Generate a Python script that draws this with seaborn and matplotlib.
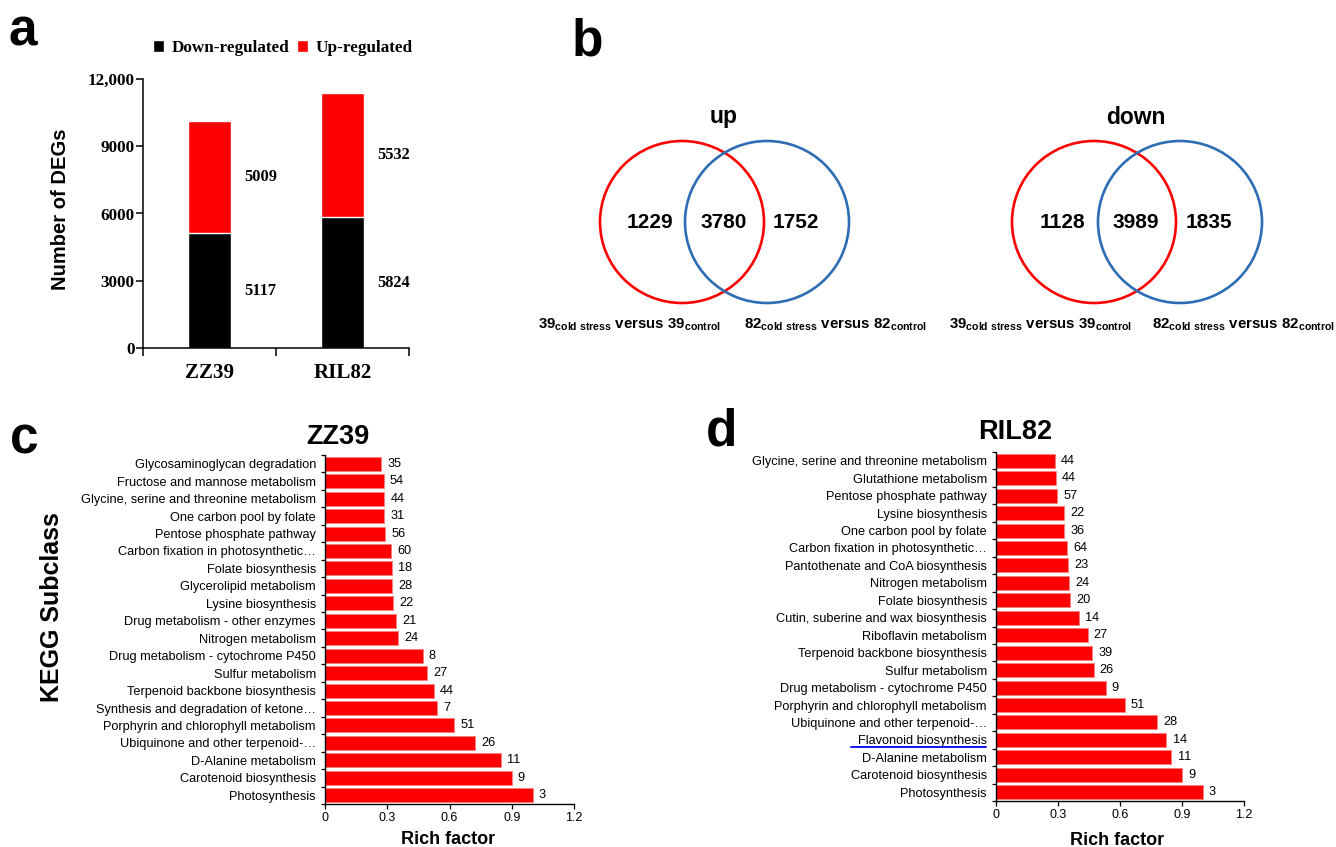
import numpy as np
import pandas as pd
import matplotlib
matplotlib.use("Agg")
import matplotlib.pyplot as plt
import matplotlib.transforms as mtransforms
from matplotlib.patches import Ellipse, Patch
import seaborn as sns

# ---------------- data ----------------
a_lines = ["ZZ39", "RIL82"]
a_down = [5117, 5824]
a_up = [5009, 5532]
a_yticks = [0, 3000, 6000, 9000, 12000]
a_yticklabels = ["0", "3000", "6000", "9000", "12,000"]

venn_titles = ["up", "down"]
venn_up = [1229, 3780, 1752]
venn_down = [1128, 3989, 1835]

c_terms = [
    "Glycosaminoglycan degradation",
    "Fructose and mannose metabolism",
    "Glycine, serine and threonine metabolism",
    "One carbon pool by folate",
    "Pentose phosphate pathway",
    "Carbon fixation in photosynthetic\u2026",
    "Folate biosynthesis",
    "Glycerolipid metabolism",
    "Lysine biosynthesis",
    "Drug metabolism - other enzymes",
    "Nitrogen metabolism",
    "Drug metabolism - cytochrome P450",
    "Sulfur metabolism",
    "Terpenoid backbone biosynthesis",
    "Synthesis and degradation of ketone\u2026",
    "Porphyrin and chlorophyll metabolism",
    "Ubiquinone and other terpenoid-\u2026",
    "D-Alanine metabolism",
    "Carotenoid biosynthesis",
    "Photosynthesis",
]
c_rich = [0.272, 0.282, 0.285, 0.286, 0.289, 0.318, 0.321, 0.325, 0.328, 0.344,
          0.354, 0.471, 0.492, 0.524, 0.538, 0.622, 0.724, 0.848, 0.899, 1.0]
c_counts = [35, 54, 44, 31, 56, 60, 18, 28, 22, 21, 24, 8, 27, 44, 7, 51, 26, 11, 9, 3]

d_terms = [
    "Glycine, serine and threonine metabolism",
    "Glutathione metabolism",
    "Pentose phosphate pathway",
    "Lysine biosynthesis",
    "One carbon pool by folate",
    "Carbon fixation in photosynthetic\u2026",
    "Pantothenate and CoA biosynthesis",
    "Nitrogen metabolism",
    "Folate biosynthesis",
    "Cutin, suberine and wax biosynthesis",
    "Riboflavin metabolism",
    "Terpenoid backbone biosynthesis",
    "Sulfur metabolism",
    "Drug metabolism - cytochrome P450",
    "Porphyrin and chlorophyll metabolism",
    "Ubiquinone and other terpenoid-\u2026",
    "Flavonoid biosynthesis",
    "D-Alanine metabolism",
    "Carotenoid biosynthesis",
    "Photosynthesis",
]
d_rich = [0.285, 0.288, 0.295, 0.328, 0.331, 0.342, 0.348, 0.352, 0.357, 0.400,
          0.443, 0.465, 0.472, 0.530, 0.623, 0.779, 0.824, 0.848, 0.901, 1.0]
d_counts = [44, 44, 57, 22, 36, 64, 23, 24, 20, 14, 27, 39, 26, 9, 51, 28, 14, 11, 9, 3]
d_highlight = "Flavonoid biosynthesis"

rich_ticks = [0, 0.3, 0.6, 0.9, 1.2]
rich_ticklabels = ["0", "0.3", "0.6", "0.9", "1.2"]

# ---------------- style ----------------
W, H = 1336, 847
sns.set_theme(style="white")
plt.rcParams["font.family"] = ["Liberation Sans", "DejaVu Sans"]
plt.rcParams["mathtext.fontset"] = "custom"
plt.rcParams["mathtext.rm"] = "Liberation Sans"
plt.rcParams["mathtext.bf"] = "Liberation Sans:bold"
plt.rcParams["mathtext.it"] = "Liberation Sans:italic"
for k in ["text.color", "axes.labelcolor", "xtick.color", "ytick.color", "axes.edgecolor"]:
    plt.rcParams[k] = "black"

RED = "#FF0000"
BLUE = "#2E6DB4"
SERIF = "Liberation Serif"

fig = plt.figure(figsize=(W / 100, H / 100), dpi=100)


def fx(x):
    return x / W


def fy(y):
    return 1 - y / H


def rect(l, t, r, b):
    return [fx(l), fy(b), fx(r) - fx(l), fy(t) - fy(b)]


# overlay axes in pixel coordinates for panel letters and Venn diagrams
axo = fig.add_axes([0, 0, 1, 1], zorder=0)
axo.set_xlim(0, W)
axo.set_ylim(H, 0)
axo.axis("off")
axo.set_facecolor("none")

for letter, x, base in [("a", 9, 46), ("b", 572, 55), ("c", 10, 453), ("d", 706, 445)]:
    axo.text(x, base, letter, fontsize=37, fontweight="bold", ha="left", va="baseline")

# ---------------- panel a ----------------
axa = fig.add_axes(rect(143, 79, 409, 348))
dfa = pd.DataFrame({"line": a_lines, "down": a_down, "up": a_up})
dfa["total"] = dfa["down"] + dfa["up"]
bw = 0.33
sns.barplot(data=dfa, x="line", y="total", color=RED, saturation=1, width=bw,
            errorbar=None, ax=axa)
sns.barplot(data=dfa, x="line", y="down", color="black", saturation=1, width=bw,
            errorbar=None, ax=axa)
axa.set_xlim(-0.5, 1.5)
axa.set_ylim(0, 12000)
axa.set_xlabel("")
axa.set_ylabel("")
axa.set_yticks(a_yticks, a_yticklabels, fontfamily=SERIF, fontweight="bold", fontsize=12.3)
axa.set_xticks(range(len(a_lines)), a_lines, fontfamily=SERIF, fontweight="bold", fontsize=15)
axa.set_xticks(np.arange(-0.5, len(a_lines)), minor=True)
axa.tick_params(axis="x", which="major", length=0, pad=11)
axa.tick_params(axis="x", which="minor", length=5.5, width=1.1, direction="out", bottom=True)
axa.tick_params(axis="y", length=5, width=1.1, direction="out", left=True, pad=1)
for s in ["top", "right"]:
    axa.spines[s].set_visible(False)
for s in ["left", "bottom"]:
    axa.spines[s].set_linewidth(1.1)
for i in range(len(a_lines)):
    for val, mid in [(a_down[i], a_down[i] / 2), (a_up[i], a_down[i] + a_up[i] / 2)]:
        axa.annotate(str(val), xy=(i + bw / 2, mid), xytext=(9.5, 0),
                     textcoords="offset points", ha="left", va="center",
                     fontfamily=SERIF, fontweight="bold", fontsize=11.8)
fig.text(fx(61), fy(209), "Number of DEGs", rotation=90, ha="center", va="center",
         fontsize=14.5, fontweight="bold")
fig.legend(handles=[Patch(facecolor="black"), Patch(facecolor=RED)],
           labels=["Down-regulated", "Up-regulated"], ncol=2, loc="center",
           bbox_to_anchor=(fx(283), fy(48)), frameon=False,
           prop={"family": SERIF, "weight": "bold", "size": 12.3},
           handlelength=0.65, handleheight=0.65, handletextpad=0.45,
           columnspacing=0.45, borderpad=0)

# ---------------- panel b (Venn) ----------------
venn_layout = [(682, 767, 724), (1094, 1180, 1136)]  # red cx, blue cx, title x
venn_sub = [(630, 836), (1041, 1244)]
cy, ew, eh = 222, 164, 162
for title, vals, (rx, bx, tx), (l1, l2) in zip(venn_titles, [venn_up, venn_down],
                                                 venn_layout, venn_sub):
    axo.add_patch(Ellipse((rx, cy), ew, eh, fill=False, edgecolor=RED, linewidth=1.9))
    axo.add_patch(Ellipse((bx, cy), ew, eh, fill=False, edgecolor=BLUE, linewidth=1.9))
    axo.text(tx, 117, title, ha="center", va="center", fontsize=16.5, fontweight="bold")
    xs = [rx - 32, (rx + bx) / 2 - 1, bx + 29]
    for x, v in zip(xs, vals):
        axo.text(x, cy, str(v), ha="center", va="center", fontsize=15, fontweight="bold")
    axo.text(l1, 325, r"$\mathbf{39_{cold\ stress}\ versus\ 39_{control}}$",
             ha="center", va="center", fontsize=10.8)
    axo.text(l2, 325, r"$\mathbf{82_{cold\ stress}\ versus\ 82_{control}}$",
             ha="center", va="center", fontsize=10.8)


# ---------------- panels c, d ----------------
def kegg_panel(box, terms, rich, counts, title, title_xy, xlabel_xy):
    ax = fig.add_axes(rect(*box))
    df = pd.DataFrame({"term": terms, "rich": rich, "n": counts})
    sns.barplot(data=df, y="term", x="rich", orient="h", color=RED, saturation=1,
                width=0.8, edgecolor="#FF8080", linewidth=0.7, errorbar=None, ax=ax)
    ax.set_xlim(0, 1.2)
    ax.set_ylim(len(terms) - 0.5, -0.5)
    ax.set_xlabel("")
    ax.set_ylabel("")
    ax.set_xticks(rich_ticks, rich_ticklabels, fontsize=9)
    ax.set_yticks(range(len(terms)), terms, fontsize=9.2)
    ax.set_yticks(np.arange(-0.5, len(terms)), minor=True)
    ax.tick_params(axis="y", which="major", length=0, pad=6.5)
    ax.tick_params(axis="y", which="minor", length=3, width=0.9, direction="out", left=True)
    ax.tick_params(axis="x", length=3.5, width=0.9, direction="out", bottom=True, pad=2.5)
    for s in ["top", "right"]:
        ax.spines[s].set_visible(False)
    for s in ["left", "bottom"]:
        ax.spines[s].set_linewidth(1.0)
    for i, (r, n) in enumerate(zip(rich, counts)):
        ax.annotate(str(n), xy=(r, i), xytext=(4.5, 0), textcoords="offset points",
                    ha="left", va="center", fontsize=9.2)
    fig.text(fx(title_xy[0]), fy(title_xy[1]), title, ha="center", va="center",
             fontsize=19.5, fontweight="bold")
    fig.text(fx(xlabel_xy[0]), fy(xlabel_xy[1]), "Rich factor", ha="center", va="center",
             fontsize=13, fontweight="bold")
    return ax


axc = kegg_panel((325, 455, 574, 804), c_terms, c_rich, c_counts, "ZZ39",
                 (338, 437), (448, 839))
axd = kegg_panel((996, 452, 1244, 801), d_terms, d_rich, d_counts, "RIL82",
                 (1015, 432), (1117, 840))
fig.text(fx(52), fy(607), "KEGG Subclass", rotation=90, ha="center", va="center",
         fontsize=18, fontweight="bold")

# underline the highlighted term in panel d
hi = d_terms.index(d_highlight)
trans = mtransforms.blended_transform_factory(axd.transAxes, axd.transData)
axd.plot([-0.585, -0.04], [hi + 0.42, hi + 0.42], color="#1515F0", linewidth=1.4,
         transform=trans, clip_on=False, scalex=False, scaley=False)
axd.set_ylim(len(d_terms) - 0.5, -0.5)

fig.savefig("out.png", dpi=100)
